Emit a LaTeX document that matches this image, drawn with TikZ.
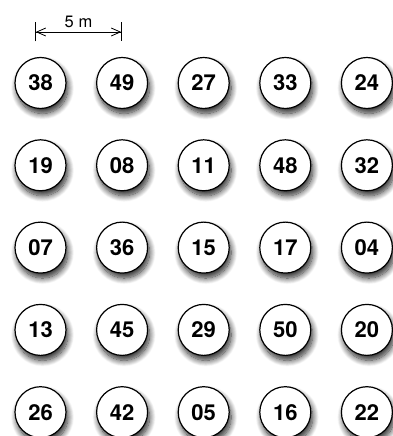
\documentclass[tikz,border=0pt]{standalone}
\usepackage{fontspec}
\setmainfont{TeX Gyre Heros}
\usetikzlibrary{shadows.blur,arrows.meta}
\tikzset{
  ball/.style={circle, draw=black, line width=1.2pt, fill=white, minimum size=51pt, inner sep=0pt,
    font=\fontsize{22}{22}\selectfont\bfseries,
    blur shadow={shadow xshift=2pt, shadow yshift=-5pt, shadow blur radius=6pt, shadow blur steps=12, shadow opacity=85}},
  dimline/.style={line width=0.8pt, {Bar[width=19pt]Straight Barb[length=9pt,width=8pt]}-{Straight Barb[length=9pt,width=8pt]Bar[width=19pt]}}
}
\begin{document}
\begin{tikzpicture}[x=1pt,y=-1pt]
\useasboundingbox (0,0) rectangle (392,436);
\foreach \r/\row in {0/{38,49,27,33,24},1/{19,08,11,48,32},2/{07,36,15,17,04},3/{13,45,29,50,20},4/{26,42,05,16,22}} {
  \foreach \n [count=\c from 0] in \row {
    \node[ball] (b\r\c) at ({40.5+81.6*\c},{83+82.3*\r}) {\n};
  }
}
\coordinate (dl) at (35,32);
\coordinate (dr) at (122,32);
\draw[dimline] (dl) -- (dr) node[midway, above=1pt, font=\fontsize{16.5}{16.5}\selectfont] (lab) {5 m};
\end{tikzpicture}
\end{document}
